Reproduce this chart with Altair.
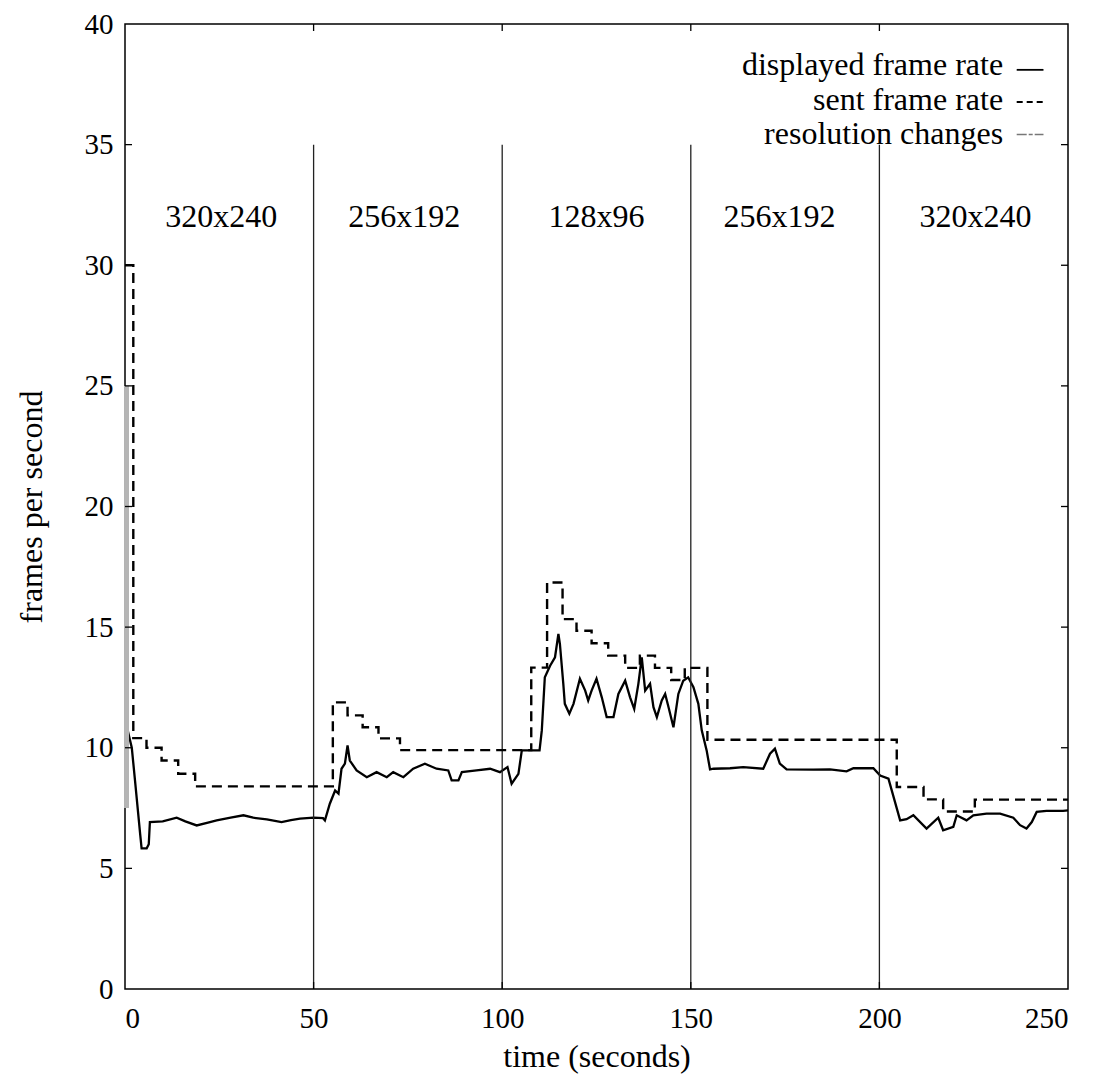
import altair as alt
import pandas as pd

# ---------------- data ----------------
sent_t = [0, 2.2, 5.7, 9.7, 14.1, 18.6, 55.1, 59.0, 63.0, 67.2, 72.9, 107.7, 111.9,
          116.0, 119.7, 123.7, 128.1, 132.6, 136.5, 140.5, 144.8, 148.4, 154.4,
          204.6, 211.7, 216.9, 225.3, 250]
sent_v = [30, 10.4, 10.0, 9.47, 8.92, 8.4, 11.88, 11.34, 10.85, 10.39, 9.9, 13.32, 16.85,
          15.33, 14.85, 14.33, 13.82, 13.31, 13.82, 13.31, 12.81, 13.31, 10.33,
          8.37, 7.86, 7.36, 7.85, 7.85]

disp_t = [0.6, 1.8, 2.65, 4.0, 4.4, 5.75, 6.3, 6.6, 10, 13.7, 16, 19.0, 22, 24.3, 28, 31.4,
          34, 37.6, 41.5, 44, 46.4, 50, 52.5, 53.0, 54.3, 55.7, 56.6, 57.4, 58.3, 59.0,
          59.6, 61.4, 64.1, 66.7, 69.4, 71.1, 73.8, 76.4, 79.5, 82.6, 85.7, 86.6, 88.4,
          89.3, 93.2, 96.8, 99.4, 101.4, 102.5, 104.3, 105.2, 109.9, 110.5, 111.3, 112.7,
          114.0, 114.9, 115.3, 116.2, 116.6, 117.8, 118.9, 120.6, 122.0, 122.8, 123.7,
          125.0, 126.4, 127.7, 129.5, 130.8, 132.6, 133.9, 135.0, 136.1, 137.0, 137.9,
          139.2, 140.1, 141.0, 142.3, 143.2, 144.1, 145.4, 146.7, 148.0, 149.3, 150.7,
          152.0, 152.9, 154.2, 155.1, 156.0, 160.4, 163.9, 169.2, 171.0, 172.3, 173.6,
          175.4, 182.5, 186.9, 191.3, 193.1, 198.4, 200.2, 202.4, 205.5, 207.2, 209.0,
          212.5, 215.6, 216.9, 219.6, 220.5, 223.1, 224.9, 228.4, 232.0, 235.5, 237.3,
          239.0, 240.4, 241.7, 244.3, 248.7, 250]
disp_v = [10.8, 10.0, 8.65, 6.45, 5.83, 5.83, 6.0, 6.92, 6.95, 7.1, 6.95, 6.78, 6.9, 6.99,
          7.1, 7.2, 7.1, 7.03, 6.92, 7.0, 7.06, 7.1, 7.08, 6.99, 7.68, 8.23, 8.1, 9.13,
          9.34, 10.1, 9.47, 9.06, 8.78, 8.99, 8.78, 8.99, 8.78, 9.13, 9.34, 9.13, 9.06,
          8.65, 8.65, 8.99, 9.06, 9.13, 8.99, 9.2, 8.51, 8.92, 9.89, 9.89, 10.72, 12.92,
          13.4, 13.75, 14.72, 14.3, 12.65, 11.82, 11.41, 11.82, 12.86, 12.37, 11.96,
          12.37, 12.86, 12.09, 11.27, 11.27, 12.23, 12.78, 12.09, 11.61, 12.65, 13.75,
          12.37, 12.65, 11.68, 11.27, 11.96, 12.23, 11.68, 10.85, 12.23, 12.78, 12.92,
          12.51, 11.82, 10.72, 9.89, 9.1, 9.13, 9.15, 9.2, 9.13, 9.75, 9.96, 9.34, 9.1,
          9.09, 9.1, 9.02, 9.15, 9.15, 8.85, 8.72, 6.99, 7.04, 7.2, 6.65, 7.1, 6.58,
          6.72, 7.2, 6.99, 7.2, 7.27, 7.27, 7.1, 6.79, 6.65, 6.92, 7.34, 7.38, 7.38, 7.4]

res_t = [50, 100, 150, 200]
res_top = 35

region_labels = ["320x240", "256x192", "128x96", "256x192", "320x240"]
region_t = [25.5, 74, 125, 173.5, 225.5]
region_y = 32.0

legend_labels = ["displayed frame rate", "sent frame rate", "resolution changes"]
legend_text_t = 232.8
legend_text_y = [38.3, 36.86, 35.42]
legend_line_y = [38.1, 36.77, 35.42]
legend_line_t = [236.4, 243.5]

x_ticks = [0, 50, 100, 150, 200, 250]
y_ticks = [0, 5, 10, 15, 20, 25, 30, 35, 40]

FONT = "Liberation Serif"
W, H = 943, 965

xs = alt.Scale(domain=[0, 250], nice=False, zero=False)
ys = alt.Scale(domain=[0, 40], nice=False)

sent_df = pd.DataFrame({"t": sent_t, "v": sent_v})
disp_df = pd.DataFrame({"t": disp_t, "v": disp_v})
res_df = pd.DataFrame({"t": res_t, "top": [res_top] * len(res_t), "bot": [0] * len(res_t)})
lab_df = pd.DataFrame({"t": region_t, "v": [region_y] * len(region_t), "label": region_labels})
leg_df = pd.DataFrame({"t": [legend_text_t] * 3, "v": legend_text_y, "label": legend_labels})
yt_df = pd.DataFrame({"v": y_ticks[1:-1]})
xt_df = pd.DataFrame({"t": x_ticks[1:-1]})

X_AXIS = alt.Axis(values=x_ticks, ticks=False, domain=False, grid=False,
                  labelFontSize=29, labelPadding=15, titleFontSize=32,
                  titlePadding=8, format="d")
Y_AXIS = alt.Axis(values=y_ticks, ticks=False, domain=False, grid=False,
                  labelFontSize=29, labelPadding=12, titleFontSize=32,
                  titlePadding=36, format="d")


def X(field="t:Q"):
    return alt.X(field, scale=xs, axis=X_AXIS, title="time (seconds)")


def Y(field="v:Q"):
    return alt.Y(field, scale=ys, axis=Y_AXIS, title="frames per second")


solid = alt.Chart(disp_df).mark_line(color="black", strokeWidth=2.3).encode(x=X(), y=Y(), order="t:Q")
sent = alt.Chart(sent_df).mark_line(color="black", strokeWidth=2.4, strokeDash=[10, 6],
                                     interpolate="step-after").encode(x=X(), y=Y())

res = alt.Chart(res_df).mark_rule(color="#222", strokeWidth=1.3).encode(
    x=X(), y=Y("top:Q"), y2="bot:Q")

# faint gray line near the start (resolution change at t=0)
gray_df = pd.DataFrame({"t": [0.4], "top": [25], "bot": [7.5]})
gray = alt.Chart(gray_df).mark_rule(color="#b5b5b5", strokeWidth=5).encode(
    x=X(), y=Y("top:Q"), y2="bot:Q")

labels = alt.Chart(lab_df).mark_text(font=FONT, fontSize=32, color="black").encode(
    x=X(), y=Y(), text="label:N")

leg_text = alt.Chart(leg_df).mark_text(font=FONT, fontSize=32, color="black", align="right").encode(
    x=X(), y=Y(), text="label:N")

leg_solid = alt.Chart(pd.DataFrame({"t": [legend_line_t[0]], "t2": [legend_line_t[1]],
                                    "v": [legend_line_y[0]]})).mark_rule(
    color="black", strokeWidth=1.8).encode(x=X(), x2="t2:Q", y=Y())
leg_dash = alt.Chart(pd.DataFrame({"t": [legend_line_t[0]], "t2": [legend_line_t[1]],
                                   "v": [legend_line_y[1]]})).mark_rule(
    color="black", strokeWidth=2, strokeDash=[6, 4]).encode(x=X(), x2="t2:Q", y=Y())
leg_res = alt.Chart(pd.DataFrame({"t": [legend_line_t[0]], "t2": [legend_line_t[1]],
                                  "v": [legend_line_y[2]]})).mark_rule(
    color="#777", strokeWidth=1.5, strokeDash=[10, 2, 4, 2]).encode(x=X(), x2="t2:Q", y=Y())

# inward ticks on the frame
tick_l = alt.Chart(yt_df).mark_rule(color="black", strokeWidth=1.3).encode(
    y=Y(), x=alt.value(0), x2=alt.value(7))
tick_r = alt.Chart(yt_df).mark_rule(color="black", strokeWidth=1.3).encode(
    y=Y(), x=alt.value(W - 7), x2=alt.value(W))
tick_t = alt.Chart(xt_df).mark_rule(color="black", strokeWidth=1.3).encode(
    x=X(), y=alt.value(0), y2=alt.value(7))
tick_b = alt.Chart(xt_df).mark_rule(color="black", strokeWidth=1.3).encode(
    x=X(), y=alt.value(H - 7), y2=alt.value(H))

chart = alt.layer(
    solid, gray, res, sent, labels, leg_text, leg_solid, leg_dash, leg_res,
    tick_l, tick_r, tick_t, tick_b
).properties(
    width=W, height=H,
    autosize=alt.AutoSizeParams(type="none"),
    padding={"left": 117, "top": 16, "right": 17, "bottom": 85},
).configure_view(
    stroke="black", strokeWidth=1.5
).configure_axis(
    labelFont=FONT, titleFont=FONT, labelColor="black", titleColor="black",
    titleFontWeight="normal"
)

chart.save("out.html", embed_options={"renderer": "svg", "actions": False})
